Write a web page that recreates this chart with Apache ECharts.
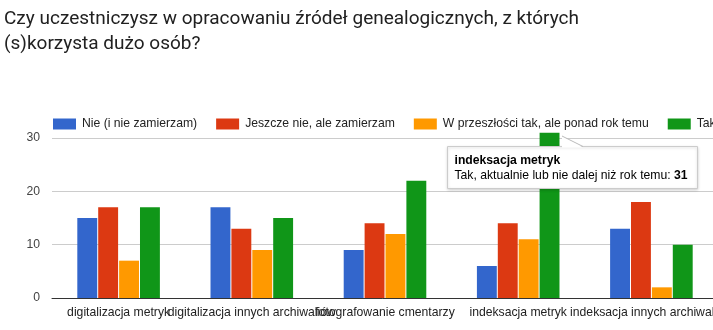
<!DOCTYPE html>
<html>
<head>
<meta charset="utf-8">
<script src="https://cdn.jsdelivr.net/npm/echarts@6/dist/echarts.min.js"></script>
<style>
html,body{margin:0;padding:0;background:#fff;}
#c{width:713px;height:330px;}
</style>
</head>
<body>
<div id="c"></div>
<script>
const titleText = 'Czy uczestniczysz w opracowaniu źródeł genealogicznych, z których\n(s)korzysta dużo osób?';
const categories = ['digitalizacja metryk', 'digitalizacja innych archiwaliów', 'fotografowanie cmentarzy', 'indeksacja metryk', 'indeksacja innych archiwaliów'];
const seriesNames = ['Nie (i nie zamierzam)', 'Jeszcze nie, ale zamierzam', 'W przeszłości tak, ale ponad rok temu', 'Tak, aktualnie lub nie dalej niż rok temu'];
const nie = [15, 17, 9, 6, 13];
const jeszcze = [17, 13, 14, 14, 18];
const przeszlosc = [7, 9, 12, 11, 2];
const tak = [17, 15, 22, 31, 10];
const yTicks = [0, 10, 20, 30];
const colors = ['#3366cc', '#dc3912', '#ff9900', '#109618'];
const tipSeries = 3, tipIndex = 3;

const FONT = 'Arial, Liberation Sans';
const FS = 12.2;
const chart = echarts.init(document.getElementById('c'), null, {renderer: 'canvas'});
const values = [nie, jeszcze, przeszlosc, tak];
const option = {
  animation: false,
  backgroundColor: '#fff',
  color: colors,
  title: {
    text: titleText, left: 4, top: 7, padding: 0,
    textStyle: {fontFamily: 'Roboto', fontSize: 19, fontWeight: 'normal', color: '#212121', lineHeight: 25}
  },
  legend: {
    left: 53, top: 118, width: 1500, padding: 0,
    itemWidth: 23, itemHeight: 11, itemGap: 19, icon: 'rect',
    textStyle: {fontFamily: FONT, fontSize: FS, color: '#222', padding: [0, 0, 0, 1]},
    data: seriesNames
  },
  grid: {left: 52, right: -5, top: 138, bottom: 32, containLabel: false, outerBoundsMode: 'none'},
  xAxis: {
    type: 'category', data: categories,
    axisLine: {lineStyle: {color: '#333'}},
    axisTick: {show: false},
    axisLabel: {interval: 0, margin: 9, fontFamily: FONT, fontSize: FS, color: '#222', hideOverlap: false}
  },
  yAxis: {
    type: 'value', min: yTicks[0], max: yTicks[yTicks.length - 1], interval: 10,
    axisLine: {show: false}, axisTick: {show: false},
    splitLine: {lineStyle: {color: '#ccc'}},
    axisLabel: {margin: 12, fontFamily: FONT, fontSize: FS, color: '#444'}
  },
  series: seriesNames.map((n, i) => ({
    name: n, type: 'bar', data: values[i], clip: false,
    barGap: '5%', barCategoryGap: '38%'
  }))
};
chart.setOption(option);

// tooltip callout drawn from the bar's own layout
let lay;
try {
  lay = chart.getModel().getSeriesByIndex(tipSeries).getData().getItemLayout(tipIndex);
} catch (e) { lay = null; }
let bx, bw, barTop;
if (lay) {
  bx = lay.x; bw = lay.width; barTop = lay.y + lay.height;
} else {
  const p = chart.convertToPixel({seriesIndex: tipSeries}, [tipIndex, tak[tipIndex]]);
  bw = 20; bx = p[0] + 21; barTop = p[1];
}
const cx = bx + bw / 2;
const boxL = Math.round(cx - 102.5) + 0.5, boxT = Math.round(barTop + 13.5) + 0.5;
const boxW = 250, boxH = 42;
const tipX = Math.round(bx + bw + 3), tipY = Math.round(barTop + 3.5);
chart.setOption({
  graphic: [
    {type: 'rect', z: 100, shape: {x: boxL, y: boxT, width: boxW, height: boxH},
     style: {fill: '#fff', stroke: '#ccc', lineWidth: 1, shadowBlur: 3, shadowColor: 'rgba(0,0,0,0.18)', shadowOffsetY: 1}},
    {type: 'polygon', z: 101, shape: {points: [[tipX, tipY], [tipX, boxT + 1], [tipX + 21, boxT + 1]]},
     style: {fill: '#fff'}},
    {type: 'line', z: 102, shape: {x1: tipX, y1: tipY, x2: tipX + 21, y2: boxT},
     style: {stroke: '#bbb', lineWidth: 1}},
    {type: 'text', z: 103, x: boxL + 7, y: boxT + 14.5,
     style: {text: categories[tipIndex], fontFamily: FONT, fontSize: FS, fontWeight: 'bold', fill: '#000', verticalAlign: 'middle'}},
    {type: 'text', z: 103, x: boxL + 7, y: boxT + 29,
     style: {text: '{a|' + seriesNames[tipSeries] + ': }{b|' + tak[tipIndex] + '}', verticalAlign: 'middle',
       rich: {a: {fontFamily: FONT, fontSize: FS, fill: '#000'},
              b: {fontFamily: FONT, fontSize: FS, fontWeight: 'bold', fill: '#000'}}}}
  ]
});
</script>
</body>
</html>
